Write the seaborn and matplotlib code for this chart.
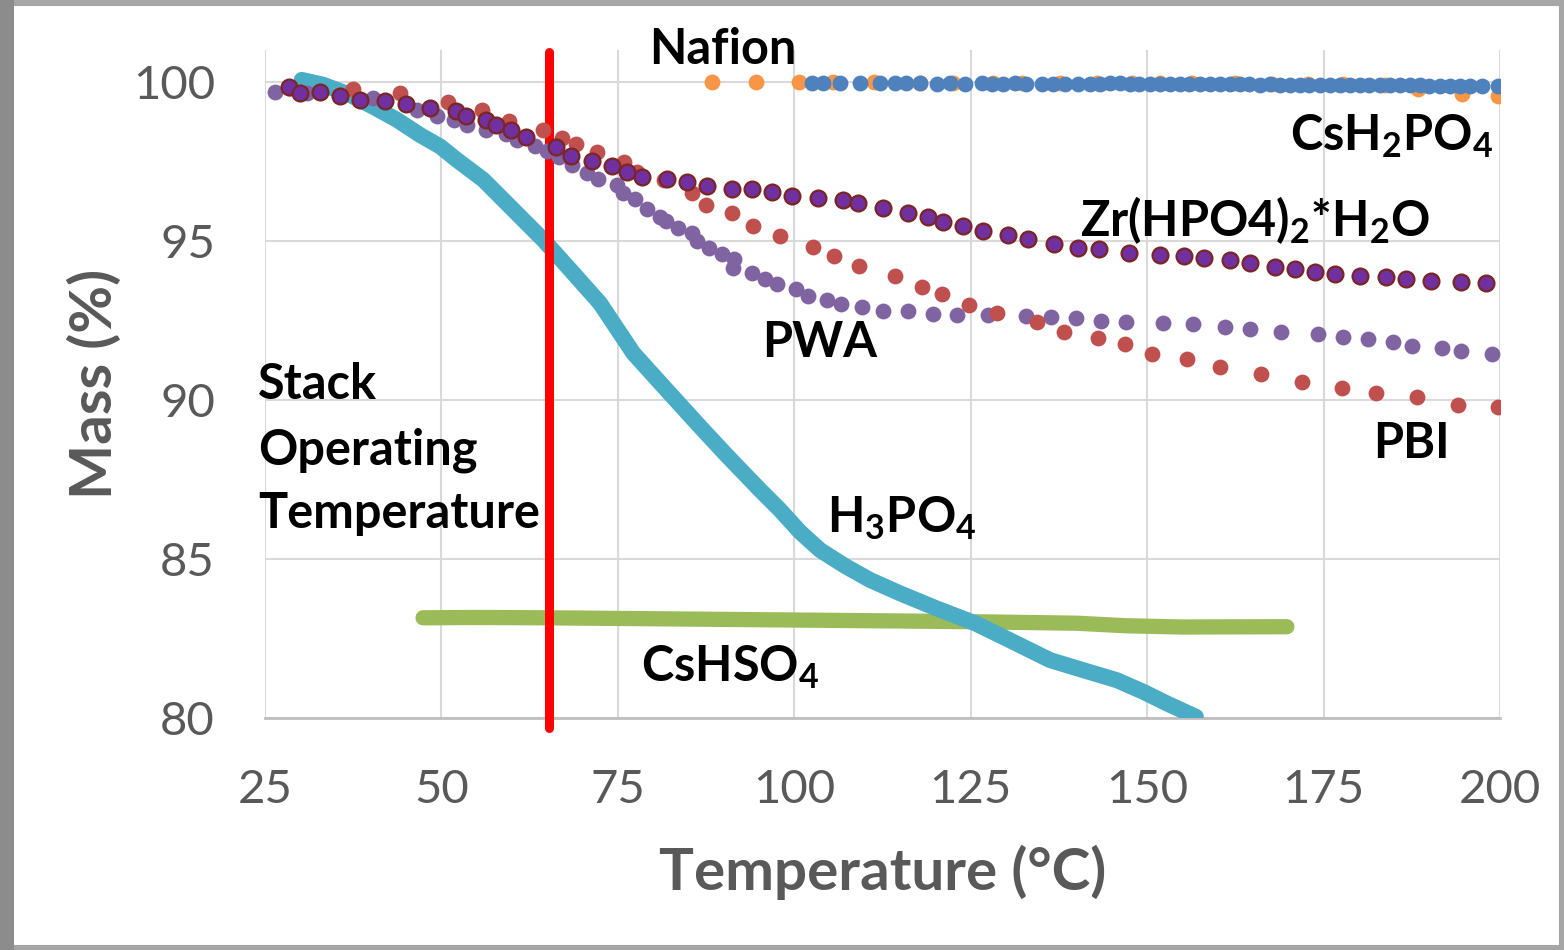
import numpy as np
import pandas as pd
import matplotlib
matplotlib.use("Agg")
import matplotlib.pyplot as plt
import seaborn as sns
from matplotlib.patches import Rectangle

# ---------------- data ----------------
zr_x = [28.44, 29.96, 32.79, 35.63, 38.46, 42.05, 44.94, 48.42, 52.07, 53.48, 56.32, 57.73,
        59.86, 62.03, 66.24, 68.36, 71.29, 74.13, 76.25, 78.38, 81.92, 84.76, 87.59, 91.13,
        93.97, 96.89, 99.72, 103.32, 106.9, 109.03, 112.53, 116.16, 118.99, 121.12, 123.95,
        126.79, 130.33, 133.16, 136.80, 140.25, 143.18, 147.43, 151.89, 155.27, 158.10,
        161.74, 164.58, 168.12, 170.95, 173.79, 176.62, 180.16, 183.81, 186.64, 190.18,
        194.48, 198.02]
zr_y = [99.85, 99.66, 99.68, 99.56, 99.43, 99.39, 99.29, 99.19, 99.07, 98.91, 98.81, 98.65,
        98.49, 98.26, 97.94, 97.66, 97.51, 97.34, 97.18, 97.00, 96.95, 96.85, 96.74, 96.64,
        96.64, 96.53, 96.42, 96.36, 96.30, 96.19, 96.03, 95.87, 95.76, 95.59, 95.48,
        95.32, 95.17, 95.05, 94.90, 94.77, 94.74, 94.61, 94.57, 94.51, 94.46,
        94.40, 94.30, 94.19, 94.12, 94.02, 93.96, 93.91, 93.85, 93.80, 93.74,
        93.70, 93.69]

pbi_x = [28.5, 37.43, 44.13, 50.89, 55.71, 59.62, 64.44, 67.09, 69.07, 72.09, 75.87, 77.76,
         81.54, 85.46, 87.45, 91.22, 94.11, 97.98, 102.70, 105.63, 109.24, 114.27, 118.06,
         120.98, 124.80, 128.69, 134.44, 138.26, 143.08, 146.87, 150.73, 155.61, 160.37,
         166.14, 171.90, 177.66, 182.43, 188.20, 194.01, 199.76]
pbi_y = [99.82, 99.77, 99.64, 99.36, 99.10, 98.78, 98.47, 98.23, 98.05, 97.79, 97.47, 97.18,
         96.90, 96.52, 96.13, 95.87, 95.47, 95.16, 94.82, 94.51, 94.22, 93.90, 93.56,
         93.32, 92.99, 92.73, 92.46, 92.13, 91.94, 91.75, 91.44, 91.29, 91.03,
         90.82, 90.56, 90.37, 90.23, 90.10, 89.84, 89.77]

pwa_x = [26.42, 30.91, 40.35, 46.50, 49.33, 51.78, 53.67, 56.32, 59.15, 60.67, 63.26, 65.03,
         66.66, 68.57, 70.59, 72.23, 74.84, 75.69, 77.43, 79.17, 80.97, 81.82, 83.57, 85.46,
         86.17, 87.96, 89.72, 91.50, 91.36, 93.97, 95.85, 97.60, 100.24, 101.90, 104.59,
         106.55, 109.60, 112.53, 116.07, 119.61, 123.10, 127.49, 132.79, 136.34, 139.88,
         143.42, 146.97, 152.2, 156.54, 161.03, 164.58, 168.97, 174.26, 177.71, 181.26,
         184.80, 187.49, 191.83, 194.48, 198.83]
pwa_y = [99.69, 99.64, 99.49, 99.10, 98.91, 98.81, 98.65, 98.49, 98.36, 98.18, 97.97, 97.81,
         97.64, 97.39, 97.13, 96.94, 96.76, 96.52, 96.31, 96.00, 95.76, 95.61, 95.40, 95.24,
         94.98, 94.77, 94.59, 94.42, 94.14, 93.98, 93.80, 93.64, 93.48, 93.27, 93.14,
         93.02, 92.91, 92.81, 92.78, 92.70, 92.67, 92.67, 92.64, 92.60, 92.57,
         92.49, 92.46, 92.43, 92.39, 92.29, 92.22, 92.13, 92.07, 91.99, 91.92,
         91.82, 91.71, 91.64, 91.54, 91.44]

h3po4_x = [30.20, 33.22, 37.04, 40.30, 43.66, 46.96, 49.80, 52.16, 55.93, 58.77, 61.60, 64.44,
           68.5, 72.47, 77.19, 81.92, 86.64, 90.5, 95.14, 97.98, 100.81, 103.65, 107.19,
           110.73, 114.98, 120.0, 125.61, 130.5, 136.24, 141.0, 145.69, 149.5, 152.78, 156.90]
h3po4_y = [100.06, 99.91, 99.59, 99.22, 98.81, 98.33, 97.97, 97.55, 96.92, 96.29, 95.66, 95.03,
           94.03, 93.04, 91.47, 90.31, 89.16, 88.24, 87.17, 86.54, 85.85, 85.28, 84.78,
           84.34, 83.92, 83.46, 82.98, 82.45, 81.82, 81.50, 81.19, 80.82, 80.46, 80.04]

cshso4_x = [47.4, 55.0, 65.0, 80.0, 100.0, 115.0, 124.0, 140.0, 147.0, 155.0, 169.8]
cshso4_y = [83.15, 83.16, 83.15, 83.12, 83.08, 83.05, 83.03, 82.98, 82.90, 82.86, 82.87]

nafion_x = [88.34, 94.58, 100.67, 105.49, 111.30, 117.82, 122.49, 128.16, 132.27, 137.66,
            142.90, 147.86, 151.83, 156.36, 162.45, 167.70, 172.80, 177.76, 183.71, 188.39,
            194.62, 199.72]
nafion_y = [100.0, 100.0, 100.0, 99.98, 99.98, 99.97, 99.97, 99.97, 99.96, 99.96,
            99.96, 99.95, 99.95, 99.95, 99.95, 99.94, 99.93, 99.92, 99.90, 99.78,
            99.63, 99.56]

csh2po4_x = [102.5, 104.1, 106.5, 109.3, 112.1, 114.3, 115.9, 117.8, 120.2, 122.1, 124.2,
             126.6, 128.0, 129.6, 131.3, 132.9, 135.1, 136.7, 138.4, 140.2, 141.9, 143.3,
             144.7, 146.1, 147.5, 148.9, 150.4, 151.8, 153.2, 154.6, 156.0, 157.5, 158.9,
             160.3, 161.7, 163.1, 164.5, 166.0, 167.4, 168.8, 170.2, 171.6, 173.0, 174.5,
             175.9, 177.3, 178.7, 180.1, 181.5, 183.0, 184.4, 185.8, 187.2, 188.6, 190.0,
             191.5, 192.9, 194.3, 195.7, 197.4, 199.7]
csh2po4_y = [99.96, 99.96, 99.95, 99.96, 99.95, 99.95, 99.96, 99.95, 99.94, 99.95, 99.94,
             99.95, 99.94, 99.94, 99.95, 99.94, 99.94, 99.93, 99.94, 99.94, 99.94, 99.94,
             99.95, 99.95, 99.94, 99.94, 99.93, 99.94, 99.93, 99.93, 99.93, 99.92, 99.93,
             99.92, 99.92, 99.92, 99.92, 99.91, 99.92, 99.91, 99.91, 99.91, 99.91, 99.90,
             99.91, 99.90, 99.90, 99.90, 99.90, 99.89, 99.89, 99.90, 99.89, 99.89, 99.88,
             99.88, 99.88, 99.88, 99.87, 99.88, 99.86]

stack_temp = 65.2
x_ticks = [25, 50, 75, 100, 125, 150, 175, 200]
y_ticks = [80, 85, 90, 95, 100]

# ---------------- style ----------------
sns.set_style("white")
FONT = "Lato"
plt.rcParams["font.family"] = [FONT, "DejaVu Sans"]
plt.rcParams["mathtext.fontset"] = "custom"
plt.rcParams["mathtext.rm"] = "Lato:bold"
plt.rcParams["mathtext.it"] = "Lato:bold"
plt.rcParams["mathtext.bf"] = "Lato:bold"
plt.rcParams["mathtext.default"] = "rm"

fig = plt.figure(figsize=(15.64, 9.5), dpi=100)
fig.patch.set_facecolor("white")
ax = fig.add_axes([265 / 1564, (950 - 718) / 950, (1500 - 265) / 1564, (718 - 50) / 950])

GRID = "#D9D9D9"
ms = 130

sns.lineplot(x=cshso4_x, y=cshso4_y, ax=ax, color="#9BBB59", lw=11, sort=False,
             solid_capstyle="round", solid_joinstyle="round", zorder=2)
sns.lineplot(x=h3po4_x, y=h3po4_y, ax=ax, color="#4BACC6", lw=11.5, sort=False,
             solid_capstyle="round", solid_joinstyle="round", zorder=3)
ax.axvline(stack_temp, ymin=-0.015, ymax=0.997, color="#FF0000", lw=6.5, zorder=4,
           clip_on=False)
sns.scatterplot(x=pwa_x, y=pwa_y, ax=ax, color="#8064A2", s=ms, linewidth=0, zorder=5)
sns.scatterplot(x=pbi_x, y=pbi_y, ax=ax, color="#C0504D", s=ms, linewidth=0, zorder=6)
sns.scatterplot(x=zr_x, y=zr_y, ax=ax, color="#7030A0", s=ms, edgecolor="#7B2525",
                linewidth=1.6, zorder=7)
sns.scatterplot(x=nafion_x, y=nafion_y, ax=ax, color="#F79646", s=ms, linewidth=0, zorder=8)
sns.scatterplot(x=csh2po4_x, y=csh2po4_y, ax=ax, color="#4F81BD", s=ms, linewidth=0, zorder=9)

ax.set_xlim(25, 200)
ax.set_ylim(80, 101)
ax.set_xticks(x_ticks)
ax.set_yticks(y_ticks)
ax.grid(True, color=GRID, lw=1.5)
ax.set_axisbelow(True)
for s in ["top", "right", "left"]:
    ax.spines[s].set_visible(False)
ax.spines["bottom"].set_color("#BFBFBF")
ax.spines["bottom"].set_linewidth(2)
ax.tick_params(axis="both", length=0, labelsize=34, labelcolor="#595959")
ax.tick_params(axis="x", pad=37)
ax.tick_params(axis="y", pad=36)

ax.set_xlabel("Temperature (°C)", fontsize=42, fontweight="bold", color="#595959", labelpad=24)
ax.set_ylabel("Mass (%)", fontsize=42, fontweight="bold", color="#595959", labelpad=8)

tk = dict(fontsize=35, fontweight="bold", color="black", zorder=20)


def lab(px, py, s, ha="left"):
    # placement in reference pixel coordinates (top-left origin)
    fig.text(px / 1564, 1 - py / 950, s, ha=ha, va="center", **tk)


lab(649, 50, "Nafion")
lab(1290, 136, r"CsH$_2$PO$_4$")
lab(1080, 220, r"Zr(HPO4)$_2$*H$_2$O")
lab(762, 343, "PWA")
lab(258, 385, "Stack")
lab(258, 450, "Operating")
lab(258, 513, "Temperature")
lab(827, 518, r"H$_3$PO$_4$")
lab(641, 667, r"CsHSO$_4$")
lab(1373, 443, "PBI")

# frame around the picture
fig.patches.append(Rectangle((0, 0), 1, 1, transform=fig.transFigure, fill=False,
                             edgecolor="#A6A6A6", lw=8, zorder=0))
fig.patches.append(Rectangle((0, 0), 14 / 1564, 1, transform=fig.transFigure,
                             facecolor="#8C8C8C", edgecolor="none", zorder=1))

fig.savefig("out.png", dpi=100)
